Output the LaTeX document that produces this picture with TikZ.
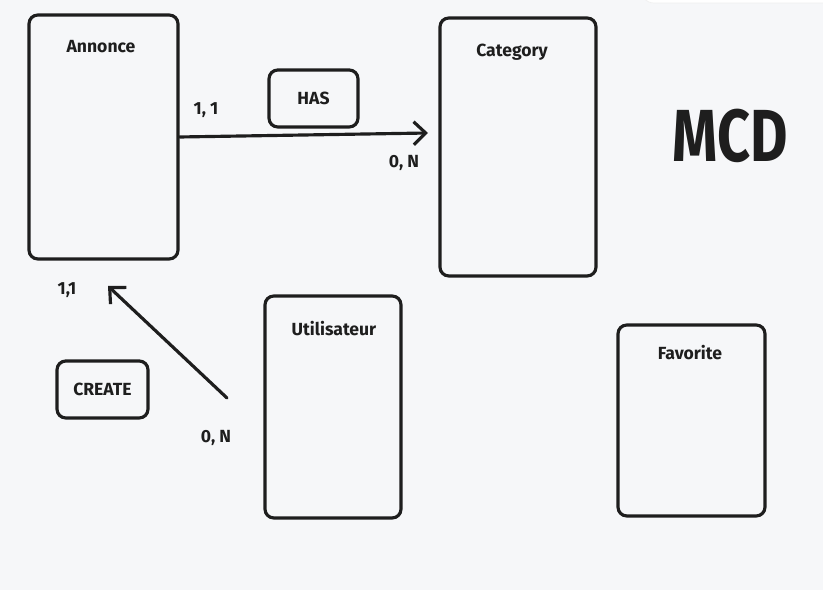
\documentclass[tikz,border=0pt]{standalone}
\usepackage{fontspec}
\setmainfont{Fira Sans}
\usepackage{tikz}
\usetikzlibrary{positioning,calc,arrows.meta}
\definecolor{ink}{HTML}{1E1E1E}
\definecolor{paper}{HTML}{F6F7F9}

\begin{document}
\begin{tikzpicture}[
  x=0.02cm, y=-0.02cm,
  ent/.style={draw=ink, line width=1.8pt, rounded corners=5pt,
    inner sep=0pt},
  rel/.style={draw=ink, line width=1.8pt, rounded corners=5pt,
    minimum width=1.78cm, minimum height=1.14cm, inner sep=0pt,
    font=\bfseries, text=ink},
  ttl/.style={font=\bfseries, text=ink, inner sep=0pt},
  card/.style={font=\bfseries, text=ink, inner sep=0pt},
  link/.style={draw=ink, line width=1.8pt, line cap=round,
    -{Straight Barb[length=2.4mm, width=4.6mm, line width=1.8pt]}}
]
% Canvas
\fill[paper] (0,0) rectangle (823,590);
\useasboundingbox (0,0) rectangle (823,590);
\fill[white, draw=black!6, rounded corners=8pt] (640,-20) rectangle (840,3);

% Entities
\node[ent, minimum width=2.98cm, minimum height=4.88cm] (annonce) at (103.5,137) {};
\node[ent, minimum width=3.12cm, minimum height=5.16cm] (category) at (518,147) {};
\node[ent, minimum width=2.72cm, minimum height=4.44cm] (user) at (333,407) {};
\node[ent, minimum width=2.94cm, minimum height=3.82cm] (favorite) at (691.5,420.5) {};

% Entity titles
\node[ttl] (tAnnonce) at (101,47) {Annonce};
\node[ttl] (tCategory) at (512,52) {Category};
\node[ttl] (tUser) at (334,329) {Utilisateur};
\node[ttl] (tFavorite) at (690,353) {Favorite};

% Associations
\node[rel] (has) at (313.5,98.5) {HAS};
\node[rel, minimum width=1.82cm] (create) at (102.5,389.5) {CREATE};

% Links
\coordinate (hasEnd) at (428,133);
\coordinate (crStart) at (227,398);
\coordinate (crEnd) at (108,286);
\draw[link] (annonce.east) -- (hasEnd);
\draw[link] (crStart) -- (crEnd);

% Cardinalities
\node[card] (c1) at (206,110) {1, 1};
\node[card] (c2) at (404,163) {0, N};
\node[card] (c3) at (67,290) {1,1};
\node[card] (c4) at (216,438) {0, N};

% Title
\node[font=\bfseries\fontsize{42}{46}\selectfont, text=ink, inner sep=0pt]
  (mcd) at (730,136) {\scalebox{0.78}[1]{MCD}};
\end{tikzpicture}
\end{document}
